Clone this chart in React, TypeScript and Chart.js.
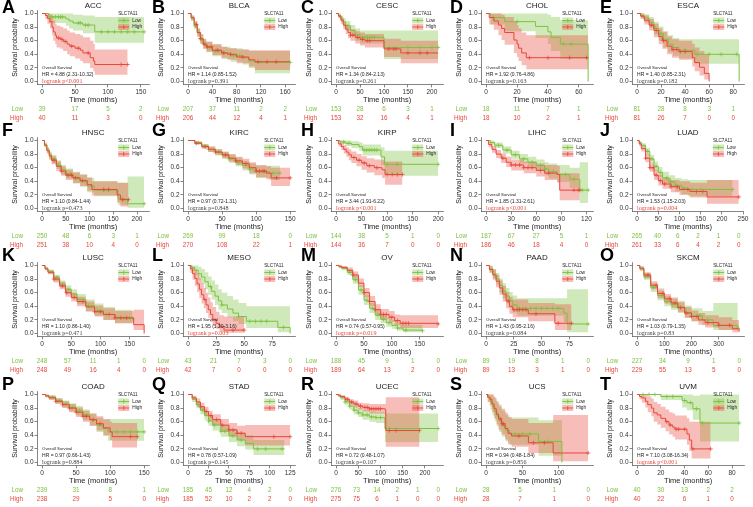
import React, { useEffect, useRef } from 'react';
import { Chart, registerables } from 'chart.js';
Chart.register(...registerables);

// ---------- data: [time, survival, lower CI, upper CI] ----------
const ACC_LOW = [[0,1,1,1],[10,0.95,0.86,1],[36,0.92,0.82,1],[41,0.89,0.78,1],[47,0.86,0.75,0.98],[62,0.83,0.71,0.97],[80,0.73,0.57,0.95],[155,0.73,0.57,0.95]];
const ACC_HIGH = [[0,1,1,1],[5,0.97,0.92,1],[8,0.93,0.85,1],[12,0.88,0.78,0.99],[15,0.8,0.68,0.95],[17,0.73,0.6,0.9],[20,0.68,0.55,0.85],[22,0.64,0.5,0.82],[28,0.62,0.48,0.8],[32,0.59,0.45,0.78],[38,0.55,0.4,0.75],[42,0.52,0.37,0.72],[50,0.49,0.34,0.7],[58,0.46,0.3,0.68],[62,0.42,0.27,0.65],[73,0.35,0.2,0.6],[78,0.3,0.15,0.55],[80,0.25,0.1,0.47],[130,0.25,0.1,0.47]];
const ACC_LOW_CENS = [15,20,25,28,31,55,58,66,70,90,100,110,120,130,140,155];
const ACC_HIGH_CENS = [25,30,35,45,55,70,120,130];

const BLCA_LOW = [[0,1,1,1],[5,0.93,0.89,0.97],[10,0.82,0.77,0.88],[15,0.72,0.66,0.78],[20,0.62,0.55,0.69],[25,0.55,0.48,0.63],[30,0.5,0.43,0.58],[40,0.45,0.37,0.54],[55,0.42,0.33,0.51],[70,0.38,0.29,0.49],[90,0.35,0.25,0.47],[100,0.3,0.2,0.45],[110,0.28,0.12,0.45],[168,0.28,0.12,0.45]];
const BLCA_HIGH = [[0,1,1,1],[5,0.94,0.9,0.97],[10,0.84,0.79,0.89],[15,0.72,0.66,0.78],[20,0.63,0.56,0.7],[25,0.55,0.48,0.62],[30,0.51,0.44,0.59],[40,0.46,0.39,0.55],[55,0.42,0.35,0.51],[65,0.4,0.32,0.49],[80,0.36,0.27,0.47],[100,0.32,0.22,0.46],[110,0.29,0.17,0.46],[168,0.29,0.17,0.46]];
const BLCA_LOW_CENS = [12,18,22,28,35,45,50,60,75,85,120,168];
const BLCA_HIGH_CENS = [14,20,26,32,38,48,58,70,90,115,130,145];

const CESC_LOW = [[0,1,1,1],[5,0.97,0.94,1],[10,0.92,0.88,0.97],[15,0.87,0.81,0.93],[20,0.82,0.75,0.89],[30,0.75,0.67,0.83],[40,0.69,0.6,0.78],[50,0.65,0.56,0.75],[100,0.5,0.33,0.75],[213,0.5,0.33,0.75]];
const CESC_HIGH = [[0,1,1,1],[5,0.96,0.93,0.99],[10,0.9,0.85,0.95],[15,0.83,0.77,0.89],[20,0.77,0.7,0.84],[25,0.72,0.64,0.8],[30,0.68,0.6,0.77],[40,0.65,0.56,0.74],[50,0.62,0.53,0.72],[60,0.6,0.5,0.7],[100,0.48,0.36,0.63],[135,0.42,0.27,0.6],[213,0.42,0.27,0.6]];
const CESC_LOW_CENS = [25,40,55,60,65,70,75,80,150,175,200,213];
const CESC_HIGH_CENS = [30,35,45,55,65,70,110,120,125,150,175,190];

const CHOL_LOW = [[0,1,1,1],[3,0.94,0.84,1],[12,0.88,0.74,1],[32,0.81,0.64,1],[40,0.73,0.55,0.98],[42,0.65,0.45,0.95],[48,0.55,0.33,0.9],[65,0.55,0.33,0.9],[66,0,0,0]];
const CHOL_HIGH = [[0,1,1,1],[2,0.94,0.84,1],[5,0.89,0.76,1],[8,0.83,0.68,1],[10,0.78,0.61,0.98],[12,0.72,0.54,0.95],[18,0.61,0.42,0.88],[20,0.55,0.36,0.83],[21,0.49,0.3,0.78],[23,0.42,0.24,0.72],[26,0.35,0.18,0.68],[66,0.35,0.18,0.68]];
const CHOL_LOW_CENS = [5,20,50,55];
const CHOL_HIGH_CENS = [28,40,54,65];

const ESCA_LOW = [[0,1,1,1],[3,0.97,0.93,1],[6,0.93,0.87,0.99],[10,0.87,0.79,0.95],[14,0.78,0.69,0.88],[18,0.7,0.6,0.81],[22,0.62,0.5,0.74],[26,0.55,0.43,0.68],[30,0.5,0.38,0.64],[35,0.46,0.34,0.62],[48,0.4,0.26,0.62],[84,0.4,0.26,0.62],[85,0,0,0]];
const ESCA_HIGH = [[0,1,1,1],[3,0.96,0.92,1],[6,0.9,0.84,0.97],[10,0.83,0.75,0.92],[14,0.75,0.65,0.85],[18,0.66,0.55,0.78],[21,0.6,0.48,0.73],[25,0.52,0.4,0.66],[29,0.47,0.35,0.62],[35,0.44,0.32,0.6],[46,0.35,0.22,0.55],[48,0.28,0.15,0.5],[52,0.21,0.09,0.45],[56,0.12,0.03,0.4],[60,0,0,0]];
const ESCA_LOW_CENS = [15,20,22,40,50,60,70,83];
const ESCA_HIGH_CENS = [12,16,22,30,33,36,40];

const HNSC_LOW = [[0,1,1,1],[5,0.94,0.91,0.97],[10,0.86,0.82,0.9],[15,0.79,0.74,0.84],[20,0.73,0.67,0.79],[30,0.64,0.58,0.71],[40,0.57,0.5,0.64],[50,0.51,0.44,0.59],[65,0.45,0.37,0.54],[80,0.4,0.32,0.5],[95,0.33,0.24,0.45],[110,0.27,0.18,0.4],[160,0.14,0.05,0.38],[180,0.07,0.01,0.47],[215,0.07,0.01,0.47]];
const HNSC_HIGH = [[0,1,1,1],[5,0.93,0.9,0.96],[10,0.85,0.81,0.89],[15,0.77,0.72,0.82],[20,0.71,0.65,0.77],[30,0.62,0.55,0.69],[40,0.55,0.48,0.62],[50,0.49,0.42,0.57],[65,0.45,0.37,0.53],[80,0.41,0.33,0.5],[95,0.35,0.26,0.46],[105,0.28,0.19,0.4],[158,0.2,0.09,0.38],[165,0.13,0.03,0.38],[182,0.13,0.03,0.38]];
const HNSC_LOW_CENS = [20,35,50,60,75,90,130,140,170,215];
const HNSC_HIGH_CENS = [25,40,55,62,70,85,130,140,170,182];

const KIRC_LOW = [[0,1,1,1],[10,0.97,0.95,0.99],[20,0.92,0.89,0.95],[30,0.87,0.83,0.91],[40,0.83,0.78,0.87],[50,0.78,0.73,0.83],[60,0.73,0.67,0.79],[70,0.68,0.62,0.75],[80,0.63,0.56,0.7],[90,0.58,0.5,0.66],[100,0.54,0.45,0.63],[120,0.52,0.42,0.63],[135,0.52,0.42,0.63]];
const KIRC_HIGH = [[0,1,1,1],[10,0.96,0.94,0.98],[20,0.91,0.88,0.94],[30,0.87,0.83,0.91],[40,0.83,0.79,0.87],[50,0.79,0.74,0.84],[60,0.74,0.69,0.8],[70,0.7,0.64,0.76],[80,0.66,0.59,0.73],[90,0.6,0.52,0.68],[100,0.55,0.46,0.64],[115,0.52,0.43,0.62],[122,0.45,0.33,0.6],[150,0.45,0.33,0.6]];
const KIRC_LOW_CENS = [15,30,45,60,75,90,105,115,125,135];
const KIRC_HIGH_CENS = [12,25,40,55,70,85,100,105,110,112,130,150];

const KIRP_LOW = [[0,1,1,1],[8,0.98,0.95,1],[18,0.96,0.92,1],[30,0.94,0.89,0.99],[45,0.91,0.85,0.97],[52,0.86,0.78,0.94],[88,0.76,0.64,0.9],[95,0.65,0.48,0.85],[200,0.65,0.48,0.85]];
const KIRP_HIGH = [[0,1,1,1],[5,0.95,0.91,0.99],[10,0.91,0.86,0.96],[15,0.87,0.81,0.93],[20,0.83,0.76,0.9],[25,0.79,0.71,0.87],[30,0.75,0.67,0.84],[40,0.71,0.62,0.8],[50,0.67,0.57,0.77],[60,0.63,0.53,0.74],[75,0.6,0.49,0.72],[90,0.57,0.45,0.71],[96,0.5,0.35,0.69],[130,0.5,0.35,0.69]];
const KIRP_LOW_CENS = [15,25,55,60,65,70,75,80,100,120,200];
const KIRP_HIGH_CENS = [35,45,55,65,80,100,110,120,130];

const LIHC_LOW = [[0,1,1,1],[5,0.97,0.94,1],[10,0.93,0.89,0.97],[20,0.86,0.81,0.91],[30,0.79,0.73,0.85],[40,0.73,0.66,0.8],[50,0.68,0.61,0.76],[60,0.63,0.55,0.72],[70,0.58,0.49,0.68],[75,0.54,0.44,0.66],[85,0.5,0.39,0.64],[100,0.43,0.3,0.6],[112,0.27,0.08,0.68],[122,0.27,0.08,0.68]];
const LIHC_HIGH = [[0,1,1,1],[3,0.94,0.9,0.98],[7,0.87,0.82,0.92],[12,0.8,0.74,0.86],[18,0.74,0.67,0.81],[24,0.68,0.61,0.76],[30,0.64,0.56,0.72],[45,0.6,0.52,0.69],[60,0.56,0.47,0.66],[70,0.52,0.42,0.64],[85,0.5,0.38,0.63],[88,0.27,0.12,0.52],[112,0.27,0.12,0.52]];
const LIHC_LOW_CENS = [15,25,35,45,55,65,70,80,95,105,115,122];
const LIHC_HIGH_CENS = [20,30,35,40,45,50,55,65,75,105,110,112];

const LUAD_LOW = [[0,1,1,1],[5,0.97,0.95,0.99],[10,0.93,0.9,0.96],[20,0.84,0.79,0.89],[30,0.73,0.67,0.79],[40,0.62,0.55,0.69],[50,0.53,0.46,0.61],[60,0.45,0.37,0.54],[75,0.39,0.31,0.49],[90,0.34,0.25,0.45],[105,0.3,0.21,0.43],[120,0.28,0.18,0.42],[225,0.28,0.18,0.42]];
const LUAD_HIGH = [[0,1,1,1],[5,0.95,0.92,0.98],[10,0.88,0.84,0.92],[20,0.74,0.68,0.8],[30,0.6,0.54,0.67],[40,0.49,0.42,0.57],[50,0.41,0.34,0.5],[60,0.36,0.29,0.45],[80,0.32,0.24,0.42],[100,0.28,0.2,0.4],[125,0.25,0.16,0.38],[165,0.17,0.07,0.42],[240,0.17,0.07,0.42]];
const LUAD_LOW_CENS = [25,35,45,55,70,80,90,110,130,150,225];
const LUAD_HIGH_CENS = [20,30,38,45,55,65,80,95,120,140,155,240];

const LUSC_LOW = [[0,1,1,1],[5,0.96,0.94,0.98],[10,0.91,0.88,0.94],[20,0.82,0.77,0.86],[30,0.73,0.68,0.78],[40,0.65,0.59,0.71],[50,0.58,0.51,0.65],[60,0.5,0.43,0.58],[75,0.41,0.33,0.5],[90,0.34,0.26,0.44],[105,0.28,0.2,0.39],[125,0.23,0.15,0.35],[155,0.22,0.13,0.35]];
const LUSC_HIGH = [[0,1,1,1],[5,0.95,0.93,0.97],[10,0.9,0.87,0.93],[20,0.8,0.75,0.85],[30,0.7,0.65,0.76],[40,0.6,0.54,0.66],[50,0.53,0.47,0.6],[60,0.47,0.4,0.54],[75,0.39,0.32,0.47],[90,0.32,0.25,0.41],[105,0.28,0.2,0.37],[125,0.23,0.15,0.33],[157,0.13,0.05,0.35],[175,0,0,0]];
const LUSC_LOW_CENS = [25,45,65,80,95,110,130,140,150,155];
const LUSC_HIGH_CENS = [20,35,42,55,70,90,100,115,125,135,145];

const MESO_LOW = [[0,1,1,1],[3,0.97,0.92,1],[6,0.93,0.86,1],[9,0.88,0.79,0.98],[12,0.83,0.73,0.95],[15,0.76,0.65,0.9],[18,0.69,0.57,0.84],[21,0.62,0.5,0.78],[24,0.55,0.42,0.72],[27,0.48,0.35,0.65],[30,0.42,0.3,0.6],[35,0.36,0.24,0.55],[40,0.3,0.18,0.5],[45,0.25,0.14,0.45],[52,0.18,0.08,0.4],[80,0.09,0.02,0.4],[91,0,0,0]];
const MESO_HIGH = [[0,1,1,1],[2,0.95,0.89,1],[4,0.88,0.79,0.98],[6,0.81,0.7,0.94],[8,0.73,0.61,0.88],[10,0.65,0.52,0.81],[12,0.57,0.44,0.74],[14,0.5,0.37,0.67],[16,0.42,0.3,0.6],[18,0.35,0.23,0.53],[20,0.28,0.17,0.46],[22,0.21,0.11,0.39],[25,0.15,0.07,0.32],[28,0.1,0.03,0.27],[32,0.05,0.01,0.25],[50,0.05,0.01,0.25]];
const MESO_LOW_CENS = [20,30,45,55,60,65,70,85];
const MESO_HIGH_CENS = [15,40,50];

const OV_LOW = [[0,1,1,1],[5,0.98,0.96,1],[10,0.96,0.93,0.99],[20,0.9,0.86,0.94],[30,0.79,0.73,0.85],[40,0.64,0.57,0.71],[50,0.49,0.42,0.57],[60,0.37,0.3,0.45],[70,0.27,0.2,0.35],[80,0.21,0.15,0.29],[90,0.16,0.1,0.24],[100,0.12,0.07,0.2],[110,0.08,0.04,0.16],[120,0.05,0.02,0.13],[155,0.04,0.01,0.12]];
const OV_HIGH = [[0,1,1,1],[5,0.99,0.97,1],[10,0.97,0.95,0.99],[20,0.93,0.89,0.97],[30,0.86,0.81,0.91],[40,0.74,0.68,0.81],[50,0.6,0.53,0.67],[60,0.47,0.4,0.55],[70,0.35,0.28,0.43],[80,0.28,0.21,0.36],[95,0.24,0.17,0.33],[105,0.19,0.12,0.28],[115,0.15,0.08,0.27],[183,0.14,0.07,0.28]];
const OV_LOW_CENS = [25,35,45,55,65,75,85,95,110,125,155];
const OV_HIGH_CENS = [30,50,60,70,80,85,90,100,110,120,125,130,183];

const PAAD_LOW = [[0,1,1,1],[3,0.95,0.9,1],[6,0.88,0.81,0.95],[9,0.8,0.72,0.89],[12,0.71,0.61,0.81],[15,0.62,0.52,0.74],[18,0.55,0.44,0.67],[21,0.48,0.37,0.61],[24,0.42,0.31,0.56],[28,0.37,0.26,0.52],[70,0.3,0.17,0.52],[73,0.14,0.02,0.65],[92,0.14,0.02,0.65]];
const PAAD_HIGH = [[0,1,1,1],[3,0.94,0.89,0.99],[6,0.86,0.79,0.94],[9,0.77,0.68,0.86],[12,0.67,0.57,0.78],[15,0.58,0.47,0.7],[18,0.48,0.37,0.61],[21,0.4,0.29,0.54],[24,0.35,0.24,0.5],[38,0.29,0.18,0.45],[62,0.15,0.05,0.43],[77,0.15,0.05,0.43]];
const PAAD_LOW_CENS = [15,30,35,40,45,50,55,60,65,92];
const PAAD_HIGH_CENS = [20,25,28,30,33,36,45,65,77];

const SKCM_LOW = [[0,1,1,1],[10,0.95,0.92,0.98],[25,0.84,0.79,0.89],[50,0.68,0.61,0.74],[75,0.56,0.49,0.63],[100,0.47,0.4,0.55],[125,0.43,0.35,0.51],[150,0.39,0.31,0.48],[175,0.31,0.23,0.41],[200,0.26,0.18,0.37],[240,0.2,0.12,0.33],[280,0.12,0.05,0.45],[370,0.08,0.02,0.45]];
const SKCM_HIGH = [[0,1,1,1],[10,0.96,0.93,0.99],[25,0.86,0.81,0.9],[50,0.71,0.65,0.77],[75,0.59,0.52,0.66],[100,0.51,0.44,0.58],[125,0.45,0.38,0.53],[150,0.38,0.31,0.46],[175,0.3,0.23,0.39],[200,0.25,0.18,0.34],[225,0.2,0.13,0.3],[250,0.16,0.09,0.27],[300,0.12,0.05,0.24],[350,0.07,0.02,0.2],[375,0.03,0,0.15]];
const SKCM_LOW_CENS = [30,60,90,110,130,150,180,200,230,260,370];
const SKCM_HIGH_CENS = [40,70,95,120,140,160,180,200,220,260,300,340];

const COAD_LOW = [[0,1,1,1],[5,0.98,0.96,1],[10,0.96,0.93,0.99],[20,0.91,0.87,0.95],[30,0.86,0.81,0.91],[40,0.81,0.75,0.87],[50,0.76,0.69,0.83],[60,0.7,0.62,0.78],[70,0.63,0.54,0.72],[80,0.55,0.45,0.66],[90,0.5,0.39,0.63],[97,0.45,0.32,0.64],[150,0.45,0.32,0.64]];
const COAD_HIGH = [[0,1,1,1],[5,0.98,0.96,1],[10,0.95,0.92,0.98],[20,0.9,0.86,0.94],[30,0.85,0.8,0.9],[40,0.8,0.74,0.86],[50,0.74,0.67,0.81],[60,0.68,0.6,0.76],[70,0.63,0.54,0.72],[80,0.57,0.47,0.68],[90,0.51,0.4,0.64],[100,0.45,0.33,0.6],[103,0.38,0.22,0.58],[140,0.38,0.22,0.58]];
const COAD_LOW_CENS = [15,25,35,45,55,65,75,85,110,120,130,140,150];
const COAD_HIGH_CENS = [20,30,40,50,60,65,75,85,130,140];

const STAD_LOW = [[0,1,1,1],[5,0.93,0.89,0.97],[10,0.85,0.8,0.9],[15,0.77,0.71,0.83],[20,0.69,0.62,0.76],[25,0.61,0.54,0.69],[30,0.55,0.47,0.63],[40,0.46,0.38,0.55],[50,0.39,0.3,0.49],[60,0.33,0.24,0.44],[70,0.28,0.19,0.4],[80,0.2,0.11,0.33],[118,0.2,0.11,0.33]];
const STAD_HIGH = [[0,1,1,1],[5,0.95,0.92,0.98],[10,0.89,0.84,0.94],[15,0.82,0.76,0.88],[20,0.75,0.68,0.82],[25,0.69,0.61,0.76],[30,0.63,0.55,0.71],[40,0.55,0.46,0.64],[50,0.48,0.39,0.58],[60,0.43,0.33,0.54],[70,0.38,0.25,0.55],[125,0.38,0.16,0.57]];
const STAD_LOW_CENS = [12,18,25,32,40,45,55,65,85,95,115];
const STAD_HIGH_CENS = [15,22,28,35,42,50,55,60,65,105,125];

const UCEC_LOW = [[0,1,1,1],[5,0.98,0.96,1],[10,0.95,0.92,0.98],[20,0.89,0.85,0.93],[30,0.83,0.78,0.88],[40,0.77,0.71,0.83],[50,0.73,0.67,0.8],[60,0.7,0.63,0.77],[75,0.67,0.6,0.75],[90,0.66,0.58,0.74],[110,0.5,0.3,0.72],[230,0.5,0.3,0.72]];
const UCEC_HIGH = [[0,1,1,1],[5,0.99,0.97,1],[10,0.97,0.95,0.99],[20,0.93,0.9,0.96],[30,0.89,0.85,0.93],[40,0.86,0.81,0.91],[50,0.83,0.78,0.88],[60,0.81,0.75,0.87],[75,0.79,0.72,0.86],[110,0.78,0.7,0.86],[112,0.47,0.23,0.96],[188,0.47,0.23,0.96]];
const UCEC_LOW_CENS = [20,30,40,50,60,70,80,90,100,120,230];
const UCEC_HIGH_CENS = [25,35,45,55,65,70,75,80,85,90,95,100,120,135,188];

const UCS_LOW = [[0,1,1,1],[3,0.96,0.89,1],[6,0.89,0.78,1],[9,0.82,0.69,0.97],[12,0.75,0.61,0.93],[15,0.68,0.53,0.88],[18,0.61,0.45,0.82],[22,0.54,0.38,0.76],[27,0.47,0.31,0.7],[32,0.42,0.26,0.66],[72,0.31,0.1,0.62],[103,0.31,0.1,0.62],[104,0,0,0]];
const UCS_HIGH = [[0,1,1,1],[2,0.96,0.89,1],[5,0.93,0.84,1],[8,0.86,0.74,1],[11,0.79,0.65,0.96],[14,0.71,0.56,0.9],[17,0.64,0.48,0.85],[21,0.57,0.41,0.79],[26,0.5,0.34,0.73],[30,0.43,0.27,0.67],[35,0.39,0.23,0.64],[58,0.29,0.14,0.58],[92,0.14,0.02,0.7],[140,0.14,0.02,0.7]];
const UCS_LOW_CENS = [25,40,50,60,85];
const UCS_HIGH_CENS = [20,22,24,45,65,80,140];

const UVM_LOW = [[0,1,1,1],[20,0.97,0.92,1],[38,0.91,0.81,1],[42,0.88,0.77,1],[47,0.79,0.63,0.98],[53,0.58,0.31,1],[86,0.58,0.31,1]];
const UVM_HIGH = [[0,1,1,1],[2,0.97,0.93,1],[4,0.95,0.88,1],[7,0.9,0.81,1],[9,0.85,0.74,0.97],[12,0.8,0.68,0.94],[14,0.73,0.6,0.89],[17,0.7,0.56,0.86],[20,0.65,0.51,0.82],[24,0.6,0.46,0.78],[27,0.55,0.41,0.74],[30,0.52,0.38,0.72],[32,0.49,0.34,0.69],[42,0.42,0.26,0.65],[44,0.33,0.17,0.6],[46,0.2,0.06,0.6],[62,0.2,0.06,0.6]];
const UVM_LOW_CENS = [5,10,15,25,30,40,45,50,55,86];
const UVM_HIGH_CENS = [25,28,33,35,40,47,62];

// ---------- panel metadata ----------
const LETTERS = ['A','B','C','D','E','F','G','H','I','J','K','L','M','N','O','P','Q','R','S','T'];
const CANCERS = ['ACC','BLCA','CESC','CHOL','ESCA','HNSC','KIRC','KIRP','LIHC','LUAD','LUSC','MESO','OV','PAAD','SKCM','COAD','STAD','UCEC','UCS','UVM'];
const X_TICKS = [
  [0,50,100,150],[0,40,80,120,160],[0,50,100,150,200],[0,20,40,60],[0,20,40,60,80],
  [0,50,100,150,200],[0,50,100,150],[0,50,100,150,200],[0,30,60,90,120],[0,50,100,150,200,250],
  [0,50,100,150],[0,25,50,75],[0,50,100,150],[0,25,50,75],[0,100,200,300],
  [0,50,100,150],[0,25,50,75,100,125],[0,50,100,150,200],[0,50,100],[0,20,40,60,80],
];
const RISK_LOW = [
  [39,17,5,2],[207,37,11,2,2],[153,28,6,3,1],[18,11,7,1],[81,28,8,3,1],
  [250,48,6,3,1],[269,99,18,0],[144,38,5,1,0],[187,67,27,5,1],[265,40,6,2,1,0],
  [248,57,11,1,0],[43,21,7,3,0],[188,45,9,1,0],[89,19,8,1,0],[227,34,9,1,0],
  [239,31,8,1],[185,45,12,4,2,0],[276,73,14,2,1,0],[28,5,1,0],[40,30,13,2,2],
];
const RISK_HIGH = [
  [40,11,3,0],[206,44,12,4,1],[153,32,16,4,1],[18,10,2,1],[81,26,7,0,0],
  [251,38,10,4,0],[270,108,22,1],[144,36,7,0,0],[186,46,18,4,0],[261,33,6,4,2,0],
  [248,49,16,4,0],[42,7,0,0,0],[189,64,13,2,0],[89,13,3,1,0],[229,55,13,5,0],
  [238,29,5,0],[185,52,10,2,2,0],[275,75,6,1,0,0],[28,7,1,0],[40,22,6,1,0],
];
const HR_TEXT = [
  'HR = 4.88 (2.31-10.32)','HR = 1.14 (0.85-1.52)','HR = 1.34 (0.84-2.13)','HR = 1.92 (0.76-4.86)','HR = 1.40 (0.85-2.31)',
  'HR = 1.10 (0.84-1.44)','HR = 0.97 (0.72-1.31)','HR = 3.44 (1.91-6.22)','HR = 1.85 (1.31-2.61)','HR = 1.53 (1.15-2.03)',
  'HR = 1.10 (0.86-1.40)','HR = 1.95 (1.20-3.16)','HR = 0.74 (0.57-0.95)','HR = 1.43 (0.95-2.16)','HR = 1.03 (0.79-1.35)',
  'HR = 0.97 (0.66-1.43)','HR = 0.78 (0.57-1.09)','HR = 0.72 (0.48-1.07)','HR = 0.94 (0.48-1.84)','HR = 7.10 (3.08-16.34)',
];
const P_TEXT = [
  'logrank p<0.001','logrank p=0.391','logrank p=0.261','logrank p=0.163','logrank p=0.182',
  'logrank p=0.473','logrank p=0.848','logrank p<0.001','logrank p<0.001','logrank p=0.004',
  'logrank p=0.471','logrank p=0.003','logrank p=0.019','logrank p=0.084','logrank p=0.83',
  'logrank p=0.884','logrank p=0.145','logrank p=0.107','logrank p=0.856','logrank p<0.001',
];
const P_SIG = [true,false,false,false,false,false,false,true,true,true,false,true,true,false,false,false,false,false,false,true];

const LOW_CURVES = [ACC_LOW,BLCA_LOW,CESC_LOW,CHOL_LOW,ESCA_LOW,HNSC_LOW,KIRC_LOW,KIRP_LOW,LIHC_LOW,LUAD_LOW,LUSC_LOW,MESO_LOW,OV_LOW,PAAD_LOW,SKCM_LOW,COAD_LOW,STAD_LOW,UCEC_LOW,UCS_LOW,UVM_LOW];
const HIGH_CURVES = [ACC_HIGH,BLCA_HIGH,CESC_HIGH,CHOL_HIGH,ESCA_HIGH,HNSC_HIGH,KIRC_HIGH,KIRP_HIGH,LIHC_HIGH,LUAD_HIGH,LUSC_HIGH,MESO_HIGH,OV_HIGH,PAAD_HIGH,SKCM_HIGH,COAD_HIGH,STAD_HIGH,UCEC_HIGH,UCS_HIGH,UVM_HIGH];
const LOW_CENS = [ACC_LOW_CENS,BLCA_LOW_CENS,CESC_LOW_CENS,CHOL_LOW_CENS,ESCA_LOW_CENS,HNSC_LOW_CENS,KIRC_LOW_CENS,KIRP_LOW_CENS,LIHC_LOW_CENS,LUAD_LOW_CENS,LUSC_LOW_CENS,MESO_LOW_CENS,OV_LOW_CENS,PAAD_LOW_CENS,SKCM_LOW_CENS,COAD_LOW_CENS,STAD_LOW_CENS,UCEC_LOW_CENS,UCS_LOW_CENS,UVM_LOW_CENS];
const HIGH_CENS = [ACC_HIGH_CENS,BLCA_HIGH_CENS,CESC_HIGH_CENS,CHOL_HIGH_CENS,ESCA_HIGH_CENS,HNSC_HIGH_CENS,KIRC_HIGH_CENS,KIRP_HIGH_CENS,LIHC_HIGH_CENS,LUAD_HIGH_CENS,LUSC_HIGH_CENS,MESO_HIGH_CENS,OV_HIGH_CENS,PAAD_HIGH_CENS,SKCM_HIGH_CENS,COAD_HIGH_CENS,STAD_HIGH_CENS,UCEC_HIGH_CENS,UCS_HIGH_CENS,UVM_HIGH_CENS];

// ---------- styling / layout ----------
const GREEN = '#7dc13f';
const RED = '#e8473b';
const GREEN_BAND = 'rgba(125,193,63,0.36)';
const RED_BAND = 'rgba(232,71,59,0.36)';
const SANS = '"Liberation Sans", Arial, sans-serif';
const SERIF = '"Liberation Serif", "Times New Roman", serif';
const INK = '#333333';

const PLOT_LEFT = [37, 183, 331, 481, 632];
const LETTER_LEFT = [2, 152, 301, 450, 600];
const ROW_TOP = [0, 127, 252, 381];
const AX_W = 36;
const PLOT_W = 115;
const CW = AX_W + PLOT_W + 2;
const CH = 132;
const OFF_Y = 5;
const PLOT_TOP = OFF_Y + 10.1;
const PLOT_H = 74.8;
const XAX_H = 20;

function survAt(curve: number[][], t: number) {
  let s = 1;
  for (const pt of curve) if (pt[0] <= t) s = pt[1];
  return s;
}

function buildConfig(p: number): any {
  const low = LOW_CURVES[p];
  const high = HIGH_CURVES[p];
  const xm = Math.max(low[low.length - 1][0], high[high.length - 1][0]);
  const row = Math.floor(p / 5);
  const col = p % 5;
  const step = X_TICKS[p][1] - X_TICKS[p][0];
  const riskR = step * (RISK_LOW[p].length - 1);
  const rm = Math.max(riskR, xm);

  const band = (c: number[][], k: number) => c.map(v => ({ x: v[0], y: v[k] }));
  const base = { stepped: true, pointRadius: 0, tension: 0 };
  const datasets: any[] = [
    { ...base, data: band(low, 3), borderWidth: 0, borderColor: 'rgba(0,0,0,0)', backgroundColor: GREEN_BAND, fill: '+1', order: 4 },
    { ...base, data: band(low, 2), borderWidth: 0, borderColor: 'rgba(0,0,0,0)', fill: false, order: 4 },
    { ...base, data: band(high, 3), borderWidth: 0, borderColor: 'rgba(0,0,0,0)', backgroundColor: RED_BAND, fill: '+1', order: 3 },
    { ...base, data: band(high, 2), borderWidth: 0, borderColor: 'rgba(0,0,0,0)', fill: false, order: 3 },
    { ...base, data: band(low, 1), borderWidth: 1, borderColor: GREEN, fill: false, order: 2 },
    { ...base, data: band(high, 1), borderWidth: 1, borderColor: RED, fill: false, order: 1 },
    { data: LOW_CENS[p].map(t => ({ x: t, y: survAt(low, t) })), showLine: false, pointStyle: 'cross', pointRadius: 2.1, pointBorderWidth: 0.75, borderColor: GREEN, pointBorderColor: GREEN, order: 2 },
    { data: HIGH_CENS[p].map(t => ({ x: t, y: survAt(high, t) })), showLine: false, pointStyle: 'cross', pointRadius: 2.1, pointBorderWidth: 0.75, borderColor: RED, pointBorderColor: RED, order: 1 },
  ];

  const rowOff = OFF_Y;
  const annotPlugin = {
    id: 'kmAnnot' + p,
    afterDraw(chart: any) {
      const { ctx, chartArea: a, scales } = chart;
      const x = scales.x, y = scales.y;
      ctx.save();
      ctx.fillStyle = '#000';
      ctx.font = `bold 18px ${SANS}`;
      ctx.textAlign = 'left';
      ctx.textBaseline = 'alphabetic';
      const letterX = LETTER_LEFT[col] - (PLOT_LEFT[col] - AX_W);
      ctx.fillText(LETTERS[p], letterX, row === 0 ? rowOff + 13 : rowOff + 9);
      ctx.fillStyle = '#222';
      ctx.font = `8px ${SANS}`;
      ctx.textAlign = 'center';
      ctx.textBaseline = 'middle';
      ctx.fillText(CANCERS[p], (a.left + a.right) / 2, rowOff + 5.5);
      const x0 = x.getPixelForValue(0);
      ctx.textAlign = 'left';
      ctx.fillStyle = '#222';
      ctx.font = `4.3px ${SANS}`;
      ctx.fillText('Overall Survival', x0, y.getPixelForValue(0.2));
      ctx.font = `5px ${SANS}`;
      ctx.fillText(HR_TEXT[p], x0, y.getPixelForValue(0.1));
      ctx.font = `6.1px ${SERIF}`;
      ctx.fillStyle = P_SIG[p] ? RED : '#444';
      ctx.fillText(P_TEXT[p], x0, y.getPixelForValue(0.0));
      const lx = a.right - 31;
      ctx.fillStyle = '#222';
      ctx.font = `4.6px ${SANS}`;
      ctx.fillText('SLC7A11', lx, rowOff + 14);
      const keys: [string, string, string, number][] = [['Low', GREEN, GREEN_BAND, rowOff + 20.5], ['High', RED, RED_BAND, rowOff + 27]];
      for (const [lab, col2, bnd, yy] of keys) {
        ctx.fillStyle = bnd;
        ctx.fillRect(lx, yy - 3, 11, 6);
        ctx.strokeStyle = col2;
        ctx.lineWidth = 0.9;
        ctx.beginPath();
        ctx.moveTo(lx, yy); ctx.lineTo(lx + 11, yy);
        ctx.moveTo(lx + 5.5, yy - 2); ctx.lineTo(lx + 5.5, yy + 2);
        ctx.stroke();
        ctx.fillStyle = '#222';
        ctx.font = `4.8px ${SANS}`;
        ctx.fillText(lab, lx + 14, yy);
      }
      const rx = (t: number) => a.left + ((t + 0.05 * rm) / (1.1 * rm)) * (a.right - a.left);
      const rows: [string, number[], string, number][] = [['Low', RISK_LOW[p], GREEN, rowOff + 109], ['High', RISK_HIGH[p], RED, rowOff + 118]];
      for (const [lab, nums, c, yy] of rows) {
        ctx.fillStyle = c;
        ctx.font = `6.3px ${SANS}`;
        ctx.textAlign = 'right';
        ctx.fillText(lab, a.left - 14, yy);
        ctx.textAlign = 'center';
        nums.forEach((n, i) => ctx.fillText(String(n), rx(i * step), yy));
      }
      ctx.restore();
    },
  };

  const axisCommon = {
    grid: { display: true, drawOnChartArea: false, drawTicks: true, tickLength: 2.5, color: INK, lineWidth: 0.6 },
    border: { display: true, color: INK, width: 0.6 },
  };

  return {
    type: 'line',
    data: { datasets },
    options: {
      animation: false,
      responsive: false,
      maintainAspectRatio: false,
      devicePixelRatio: 1,
      events: [],
      layout: { padding: { left: 0, right: CW - AX_W - PLOT_W, top: PLOT_TOP, bottom: CH - PLOT_TOP - PLOT_H - XAX_H } },
      plugins: { legend: { display: false }, tooltip: { enabled: false }, title: { display: false } },
      scales: {
        x: {
          type: 'linear',
          min: -0.05 * xm,
          max: 1.05 * xm,
          afterFit: (s: any) => { s.height = XAX_H; },
          afterBuildTicks: (s: any) => { s.ticks = X_TICKS[p].map(v => ({ value: v })); },
          ticks: { callback: (v: any) => String(v), font: { size: 6.5, family: SANS }, color: INK, padding: 0.5, maxRotation: 0, autoSkip: false },
          title: { display: true, text: 'Time (months)', font: { size: 7.5, family: SANS }, color: '#222', padding: { top: 0, bottom: 0.5 } },
          ...axisCommon,
        },
        y: {
          type: 'linear',
          min: -0.05,
          max: 1.05,
          afterFit: (s: any) => { s.width = AX_W; },
          afterBuildTicks: (s: any) => { s.ticks = [0, 0.2, 0.4, 0.6, 0.8, 1.0].map(v => ({ value: v })); },
          ticks: { callback: (v: any) => Number(v).toFixed(1), font: { size: 6.5, family: SANS }, color: INK, padding: 1 },
          title: { display: true, text: 'Survival probability', font: { size: 7, family: SANS }, color: '#222', padding: { top: 9.5, bottom: 0 } },
          ...axisCommon,
        },
      },
    },
    plugins: [annotPlugin],
  };
}

function Panel({ p }: { p: number }) {
  const ref = useRef<HTMLCanvasElement>(null);
  useEffect(() => {
    const chart = new Chart(ref.current as HTMLCanvasElement, buildConfig(p));
    return () => chart.destroy();
  }, [p]);
  const row = Math.floor(p / 5);
  const col = p % 5;
  return (
    <canvas
      ref={ref}
      width={CW}
      height={CH}
      style={{ position: 'absolute', left: PLOT_LEFT[col] - AX_W, top: ROW_TOP[row] - OFF_Y, width: CW, height: CH }}
    />
  );
}

export default function App() {
  return (
    <div style={{ position: 'fixed', left: 0, top: 0, width: 753, height: 507, overflow: 'hidden', background: '#ffffff' }}>
      {LETTERS.map((_, i) => <Panel key={i} p={i} />)}
    </div>
  );
}
